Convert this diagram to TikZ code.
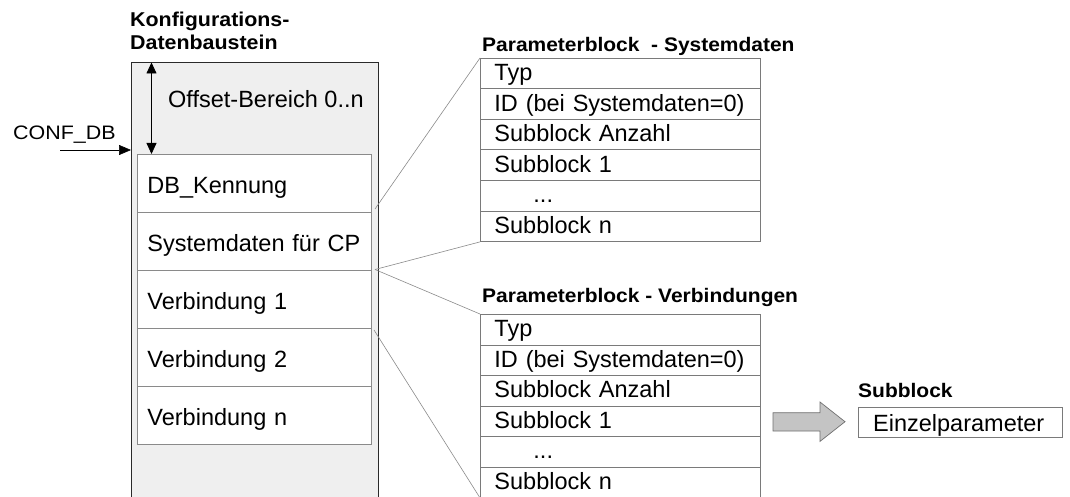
\documentclass[tikz,border=0pt]{standalone}
\usepackage{fontspec}
\setmainfont{Liberation Sans}
\newfontfamily\ttlfont{Liberation Sans}[FakeStretch=1.07]
\newfontfamily\cnffont{Liberation Sans}[FakeStretch=1.1]
\usetikzlibrary{arrows.meta}
\definecolor{outerfill}{HTML}{EFEFEF}
\definecolor{rowline}{HTML}{8A8A8A}
\definecolor{tabline}{HTML}{7A7A7A}
\definecolor{borderc}{HTML}{2A2A2A}
\definecolor{arrfill}{HTML}{C4C4C4}
\definecolor{arrline}{HTML}{707070}
\definecolor{magline}{HTML}{8A8A8A}
\begin{document}
\begin{tikzpicture}[x=1pt,y=-1pt,
  bodyfont/.style={font=\fontsize{23.5}{26}\selectfont},
  txt/.style={bodyfont, inner sep=0, anchor=base west},
  ttl/.style={font=\ttlfont\fontsize{19.6}{22.3}\selectfont\bfseries, inner sep=0, anchor=base west},
  lrow/.style={bodyfont, anchor=north west, draw=rowline, fill=white, line width=0.9pt,
    minimum width=234, minimum height=58, text width=214, inner xsep=10, inner ysep=0,
    align=left, text height=22, text depth=2},
  trow/.style={bodyfont, anchor=north west, draw=tabline, fill=white, line width=0.9pt,
    minimum width=280, minimum height=30.5, text width=252, inner xsep=14, inner ysep=0,
    align=left, text height=19, text depth=5},
  magn/.style={draw=magline, line width=0.6pt}
]
\useasboundingbox (0,0) rectangle (1070,497);
\clip (0,0) rectangle (1070,497);

% outer block
\node[draw=borderc, fill=outerfill, line width=1.4pt, anchor=north west,
      minimum width=247, minimum height=460, inner sep=0] (kdb) at (131,62) {};
\node[font=\ttlfont\fontsize{20}{22.3}\selectfont\bfseries, inner sep=0, anchor=north west, align=left]
  (kdbt) at (130,12.3) {Konfigurations-\\Datenbaustein};

% rows of the block
\node[lrow] (k1) at (137,154) {DB\_Kennung};
\node[lrow] (k2) at (137,212) {Systemdaten für CP};
\node[lrow] (k3) at (137,270) {Verbindung 1};
\node[lrow] (k4) at (137,328) {Verbindung 2};
\node[lrow] (k5) at (137,386) {Verbindung n};

% offset arrow
\coordinate (ot) at (151.5,62.5);
\coordinate (ob) at (151.5,154);
\draw[line width=0.8pt, {Triangle[length=11pt,width=10pt]}-{Triangle[length=11pt,width=10pt]}] (ot) -- (ob);
\node[txt] (off) at (168,108) {Offset-Bereich 0..n};

% CONF_DB
\node[txt, font=\cnffont\fontsize{19.5}{22}\selectfont] (conf) at (13,140) {CONF\_DB};
\coordinate (cin) at (60,150);
\draw[line width=0.6pt, -{Triangle[length=12pt,width=10pt]}] (cin) -- (kdb.west |- cin);

% Parameterblock - Systemdaten
\node[ttl] (pst) at (482,52) {Parameterblock\ \ - Systemdaten};
\node[trow] (s0) at (480,58) {Typ};
\node[trow] (s1) at (480,88.5) {ID (bei Systemdaten=0)};
\node[trow] (s2) at (480,119) {Subblock Anzahl};
\node[trow] (s3) at (480,149.5) {Subblock 1};
\node[trow] (s4) at (480,180) {\hspace*{39pt}...};
\node[trow] (s5) at (480,210.5) {Subblock n};

% Parameterblock - Verbindungen
\node[ttl] (pvt) at (482,302) {Parameterblock - Verbindungen};
\node[trow] (v0) at (480,314) {Typ};
\node[trow] (v1) at (480,344.5) {ID (bei Systemdaten=0)};
\node[trow] (v2) at (480,375) {Subblock Anzahl};
\node[trow] (v3) at (480,405.5) {Subblock 1};
\node[trow] (v4) at (480,436) {\hspace*{39pt}...};
\node[trow] (v5) at (480,466.5) {Subblock n};

% magnifier lines
\coordinate (m1) at (375,209);
\coordinate (m2) at (375,269.5);
\coordinate (m3) at (374,330);
\draw[magn] (m1) -- (s0.north west);
\draw[magn] (m2) -- (s5.south west);
\draw[magn] (m2) -- (v0.north west);
\draw[magn] (m3) -- (v5.south west);

% Subblock
\node[ttl] (sbt) at (858,397) {Subblock};
\node[bodyfont, anchor=north west, draw=tabline, fill=white, line width=0.9pt,
      minimum width=204, minimum height=30, text width=174, inner xsep=15, inner ysep=0,
      align=left, text height=20, text depth=2] (ep) at (857.7,406.7) {Einzelparameter};

% big arrow
\draw[fill=arrfill, draw=arrline, line width=0.7pt]
  (773,412.7) -- (820,412.7) -- (820,402) -- (845,421.7) -- (820,441.4) -- (820,431) -- (773,431) -- cycle;
\end{tikzpicture}
\end{document}
